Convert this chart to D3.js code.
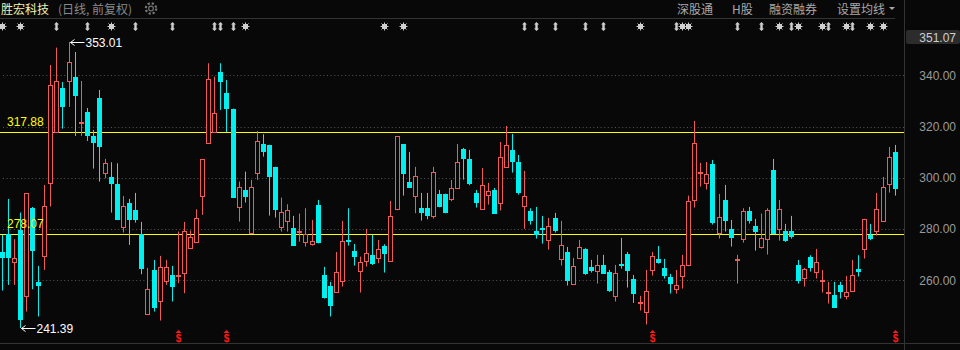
<!DOCTYPE html>
<html>
<head>
<meta charset="utf-8">
<script src="https://cdn.jsdelivr.net/npm/d3@7"></script>
<style>
  body { margin: 0; background: #080808; }
  svg { display: block; }
</style>
</head>
<body>
<div id="chart"></div>
<script>
// daily candles, oldest first
const opens = [271.21,277.98,267.31,279.67,254.05,288.12,259.38,269.65,298.13,318.03,
  335.06,337.92,339.35,321.30,325.70,316.34,331.16,302.03,300.34,297.61,
  280.97,290.20,287.47,277.98,247.03,264.06,252.10,259.90,261.98,262.00,
  263.02,272.77,275.11,293.06,313.74,318.03,341.30,332.98,326.87,288.51,
  295.27,278.50,302.03,313.22,312.83,304.24,280.97,283.05,280.45,278.37,
  275.11,274.07,289.42,261.98,257.82,255.61,259.90,275.70,271.47,263.54,
  267.70,269.78,268.87,273.42,267.44,287.99,313.09,298.39,292.80,288.25,
  288.25,285.00,293.71,293.71,291.63,295.92,311.27,307.36,294.10,287.99,
  293.19,295.27,290.07,304.12,310.88,306.19,289.16,287.08,279.28,280.50,
  275.89,284.22,268.22,271.08,258.73,268.87,272.25,265.23,263.54,266.01,
  263.28,254.05,266.40,270.30,260.55,250.67,247.81,263.93,268.35,264.84,
  261.33,256.78,261.85,266.14,291.24,302.00,298.13,305.41,278.37,291.37,
  279.93,268.10,276.02,286.95,281.23,273.16,276.28,303.07,280.19,279.28,
  279.28,266.01,261.07,269.00,263.15,259.80,255.10,254.18,258.08,254.05,
  256.00,264.45,272.12,277.85,279.15,283.05,297.74,310.10];
const highs = [277.72,291.76,276.02,286.43,293.97,288.60,265.62,297.22,344.04,350.80,
  337.40,353.01,349.11,337.79,327.26,318.68,334.28,307.36,306.06,305.67,
  292.93,291.76,294.10,282.79,264.84,267.96,269.52,267.96,265.62,279.02,
  282.79,279.41,287.73,307.30,344.69,339.48,344.69,338.18,327.00,298.52,
  302.42,299.17,318.29,316.99,312.90,304.30,292.28,289.68,285.13,286.04,
  288.12,283.57,291.37,265.23,259.38,271.08,283.18,288.12,274.20,269.26,
  280.06,277.72,275.76,274.07,290.98,316.30,313.20,310.10,304.24,294.10,
  294.10,304.24,295.27,293.80,299.17,313.22,311.66,310.88,295.27,303.85,
  298.00,296.05,314.00,320.24,317.12,308.92,302.68,288.12,288.64,285.13,
  284.35,286.30,283.18,273.03,268.74,275.76,272.50,267.96,269.92,269.92,
  264.06,266.01,276.54,271.08,262.11,253.92,264.06,271.08,273.42,268.35,
  262.50,264.06,269.92,293.06,322.19,305.80,306.19,306.97,293.71,297.22,
  283.57,269.92,288.12,288.64,283.96,286.04,288.12,307.36,291.37,282.01,
  285.13,267.96,264.84,269.78,272.25,264.06,259.38,259.38,259.38,261.72,
  267.96,269.78,284.00,282.01,294.10,300.34,312.05,312.83];
const lows = [256.00,258.21,258.21,241.39,247.81,256.50,245.86,264.06,288.77,317.90,
  319.20,327.65,316.34,316.34,314.39,303.59,298.52,299.82,286.43,283.50,
  278.63,273.81,282.53,262.37,247.00,247.81,244.30,258.21,251.71,258.86,
  254.96,272.60,275.00,285.52,313.60,317.90,326.48,317.90,292.20,282.92,
  290.33,278.30,299.17,308.27,285.26,284.48,279.02,279.02,273.40,275.11,
  273.16,273.55,274.40,252.88,245.86,255.20,257.56,273.55,265.75,255.22,
  265.36,266.00,266.66,263.02,267.30,287.34,293.06,296.10,286.17,283.31,
  283.83,284.09,288.50,286.17,290.85,295.80,299.30,297.09,288.38,287.47,
  289.55,286.00,287.21,304.00,302.03,293.45,280.06,281.75,276.28,274.33,
  271.99,278.63,265.75,257.95,258.50,268.80,262.11,263.02,258.73,262.50,
  255.48,251.71,264.58,257.17,251.19,248.19,242.74,261.85,266.53,260.68,
  254.83,254.83,256.78,265.49,288.38,296.57,295.40,281.75,276.28,279.02,
  273.16,258.73,274.72,282.14,271.60,272.38,270.04,278.00,275.50,274.98,
  276.28,258.73,257.56,263.41,260.68,255.22,250.93,249.30,252.88,252.49,
  255.90,261.46,268.48,275.63,277.46,282.90,294.23,293.06];
const closes = [268.87,268.87,268.61,244.56,293.97,271.50,257.82,289.03,336.10,337.66,
  327.65,345.08,332.07,321.60,316.34,313.74,312.05,305.67,297.74,283.57,
  289.03,283.57,283.57,264.45,256.52,249.37,265.10,265.10,257.56,262.20,
  279.15,276.81,284.22,307.23,338.44,325.18,337.53,326.87,292.28,296.31,
  292.67,296.31,314.39,310.23,300.47,287.47,286.69,287.34,273.55,279.28,
  278.11,275.37,274.72,253.27,250.15,263.15,275.37,275.50,269.26,267.05,
  270.56,266.40,272.12,270.43,285.00,316.21,301.64,296.18,300.60,286.43,
  285.26,302.16,288.77,286.43,295.92,306.06,307.49,297.74,290.33,297.09,
  294.75,286.04,307.99,312.70,306.32,294.23,292.80,283.31,277.72,280.30,
  281.10,279.41,273.68,259.90,265.49,272.90,262.50,263.67,265.88,262.63,
  255.87,262.76,266.20,263.80,254.83,251.45,255.87,269.39,266.92,261.85,
  258.73,258.08,265.88,290.85,313.48,302.30,301.38,282.53,284.61,283.31,
  276.68,268.30,286.95,283.31,279.02,276.42,287.34,278.11,287.86,275.50,
  277.07,259.90,264.45,264.97,267.18,260.00,255.30,249.37,255.61,255.35,
  261.98,263.41,283.96,276.28,287.86,296.31,308.14,295.79];

const yTicks = [340, 320, 300, 280, 260];
const levels = [317.88, 278.07];
const topValue = 351.07;
const highMark = {idx: 11, value: 353.01};
const lowMark = {idx: 3, value: 241.39};
const starMarks = [0, 3, 18, 40, 63, 66, 105, 112, 113, 128, 131, 135, 139, 143, 145];
const arrowMarks = [9, 14, 22, 28, 35, 36, 38, 86, 88, 91, 96, 99, 111, 121, 125, 130, 136, 140];
const dollarMarks = [29, 37, 107, 147];
const stockName = "胜宏科技";
const subTitle = "(日线, 前复权)";
const menuItems = [["深股通", 677], ["H股", 732], ["融资融券", 769], ["设置均线", 837]];

const width = 960, height = 350;
const upColor = "#f25a5a", downColor = "#00f0f0", bg = "#080808";
const numFont = "'Liberation Sans', Arial, sans-serif";
const cjkFont = "'Noto Sans CJK SC', 'Noto Sans', sans-serif";

let data = opens.map((o, i) => ({i: i, o: o, h: highs[i], l: lows[i], c: closes[i]}));

const svg = d3.select("#chart")
  .append("svg")
  .attr("width", width)
  .attr("height", height);

svg.append("rect").attr("width", width).attr("height", height).attr("fill", bg);

let x = d3.scaleLinear().domain([0, data.length - 1]).range([1.7, 894.7]);
let y = d3.scaleLinear().domain([260, 340]).range([280.3, 75.3]);

// frame lines
svg.append("line").attr("x1", 0).attr("x2", 895).attr("y1", 18.5).attr("y2", 18.5)
  .attr("stroke", "#333");
svg.append("line").attr("x1", 904.5).attr("x2", 904.5).attr("y1", 0).attr("y2", height)
  .attr("stroke", "#333");
svg.append("line").attr("x1", 0).attr("x2", width).attr("y1", 343.5).attr("y2", 343.5)
  .attr("stroke", "#333");

// dotted grid
svg.append("g").selectAll("line")
  .data(yTicks)
  .enter().append("line")
    .attr("x1", 3).attr("x2", 904)
    .attr("y1", d => Math.round(y(d)) + 0.5)
    .attr("y2", d => Math.round(y(d)) + 0.5)
    .attr("stroke", "#555")
    .attr("stroke-dasharray", "1,2.6");

// right axis
let yAxisGroup = svg.append("g").attr("transform", "translate(904,0)");
yAxisGroup.call(d3.axisRight(y).tickValues(yTicks).tickSize(0).tickFormat(d3.format(".2f")));
yAxisGroup.select(".domain").remove();
yAxisGroup.selectAll("text")
  .attr("x", 52)
  .attr("text-anchor", "end")
  .attr("fill", "#9a9a9a")
  .attr("font-family", numFont)
  .attr("font-size", "12px");

svg.append("rect").attr("x", 906).attr("y", 30).attr("width", 54).attr("height", 14)
  .attr("rx", 2).attr("fill", "#2c2c2c");
svg.append("text").attr("x", 956).attr("y", 41.5).attr("text-anchor", "end")
  .attr("fill", "#cfcfcf").attr("font-family", numFont).attr("font-size", "12px")
  .text(d3.format(".2f")(topValue));

// support / resistance lines
levels.forEach(v => {
  svg.append("line").attr("x1", 0).attr("x2", 904)
    .attr("y1", Math.round(y(v)) + 0.5).attr("y2", Math.round(y(v)) + 0.5)
    .attr("stroke", "#ffff00").attr("stroke-width", 1);
});

// candles
let candles = svg.append("g").selectAll("g")
  .data(data)
  .enter().append("g");

candles.append("line")
  .attr("x1", d => Math.round(x(d.i)) + 0.5)
  .attr("x2", d => Math.round(x(d.i)) + 0.5)
  .attr("y1", d => y(d.h))
  .attr("y2", d => y(d.l))
  .attr("stroke", d => d.c >= d.o ? upColor : downColor);

candles.append("rect")
  .each(function(d) {
    let cx = Math.round(x(d.i));
    let top = Math.round(y(Math.max(d.o, d.c)));
    let bot = Math.round(y(Math.min(d.o, d.c)));
    let el = d3.select(this);
    if (d.c >= d.o && bot - top > 2) {
      el.attr("x", cx - 1.5).attr("y", top + 0.5)
        .attr("width", 4).attr("height", bot - top)
        .attr("fill", bg).attr("stroke", upColor);
    } else {
      el.attr("x", cx - 2).attr("y", top)
        .attr("width", 5).attr("height", Math.max(bot - top, 2))
        .attr("fill", d.c >= d.o ? upColor : downColor);
    }
  });

// level labels sit on top of the candles
levels.forEach(v => {
  svg.append("text").attr("x", 7).attr("y", y(v) - 5.5)
    .attr("fill", "#ffff00").attr("font-family", numFont).attr("font-size", "12px")
    .text(d3.format(".2f")(v));
});

// high / low annotations
function annotate(m, textY) {
  let ax = Math.round(x(m.idx)) + 1.5, ay = Math.round(y(m.value)) + 0.5;
  svg.append("path")
    .attr("d", `M${ax + 14},${ay}H${ax}M${ax + 4},${ay - 3}L${ax},${ay}L${ax + 4},${ay + 3}`)
    .attr("stroke", "#fff").attr("fill", "none");
  svg.append("text").attr("x", ax + 15).attr("y", ay + textY)
    .attr("fill", "#fff").attr("font-family", numFont).attr("font-size", "12px")
    .text(d3.format(".2f")(m.value));
}
annotate(highMark, 4);
annotate(lowMark, 4);

// event markers row
let starG = svg.append("g").selectAll("g")
  .data(starMarks)
  .enter().append("g")
    .attr("transform", d => `translate(${Math.round(x(d)) + 0.5},26.5)`);
starG.append("path")
  .attr("d", "M-4,0H4M0,-4V4M-3,-3L3,3M-3,3L3,-3")
  .attr("stroke", "#cfcfcf").attr("stroke-width", 1);
starG.append("rect").attr("x", -2.5).attr("y", -2.5).attr("width", 5).attr("height", 5)
  .attr("fill", "#cfcfcf");

svg.append("g").selectAll("path")
  .data(arrowMarks)
  .enter().append("path")
    .attr("transform", d => `translate(${Math.round(x(d)) + 0.5},26.5)`)
    .attr("d", "M0,-4.5L2.5,-2L1.2,-2L1.2,2L2.5,2L0,4.5L-2.5,2L-1.2,2L-1.2,-2L-2.5,-2Z")
    .attr("fill", "#cfcfcf");

// dollar markers at the bottom
let dollarG = svg.append("g").selectAll("g")
  .data(dollarMarks)
  .enter().append("g")
    .attr("transform", d => `translate(${Math.round(x(d)) + 0.5},0)`);
dollarG.append("path").attr("d", "M-3,333L0,330L3,333Z").attr("fill", "#ff1a1a");
dollarG.append("text").attr("y", 342).attr("text-anchor", "middle")
  .attr("fill", "#ff1a1a").attr("font-family", numFont).attr("font-weight", "bold")
  .attr("font-size", "10px").text("$");

// header
svg.append("text").attr("x", 1).attr("y", 14)
  .attr("fill", "#f2f2b0").attr("font-family", cjkFont).attr("font-size", "12px")
  .text(stockName);
svg.append("text").attr("x", 58).attr("y", 14)
  .attr("fill", "#8a8a8a").attr("font-family", cjkFont).attr("font-size", "12px")
  .text(subTitle);

let gear = svg.append("g").attr("transform", "translate(151,8.5)");
gear.append("circle").attr("r", 5.2).attr("fill", "none")
  .attr("stroke", "#777").attr("stroke-width", 2.2).attr("stroke-dasharray", "2.2,1.9");
gear.append("circle").attr("r", 2.3).attr("fill", "none")
  .attr("stroke", "#777").attr("stroke-width", 1.2);

svg.append("g").selectAll("text")
  .data(menuItems)
  .enter().append("text")
    .attr("x", d => d[1]).attr("y", 14)
    .attr("fill", "#a8a8a8").attr("font-family", cjkFont).attr("font-size", "12px")
    .text(d => d[0]);
svg.append("path").attr("d", "M889,7H895L892,10Z").attr("fill", "#a8a8a8");
</script>
</body>
</html>
